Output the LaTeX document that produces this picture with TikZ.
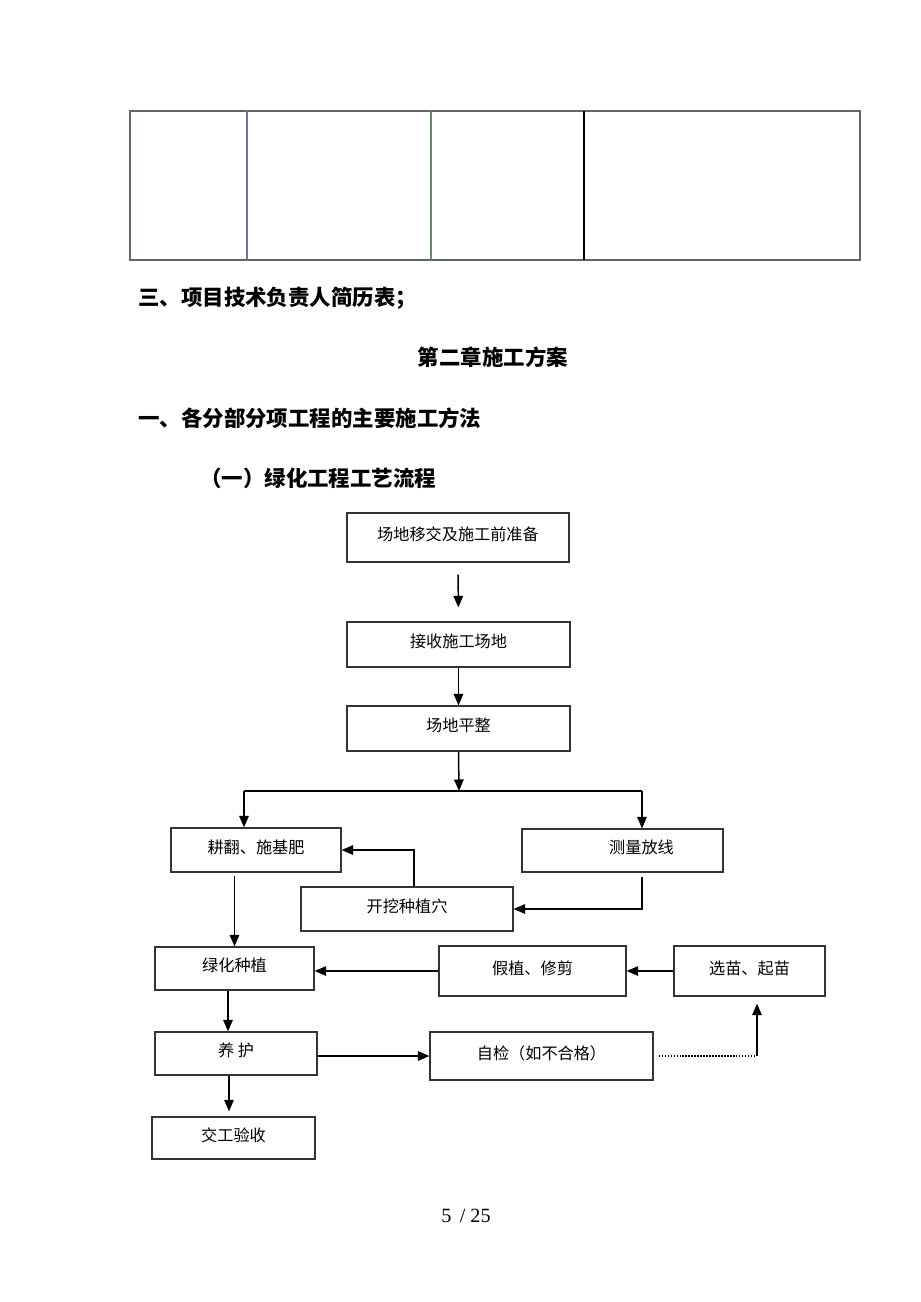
\documentclass[tikz,border=0pt]{standalone}
\usepackage{fontspec}
\setmainfont{Liberation Serif}
\newfontfamily\cjk{Noto Sans CJK SC}
\usetikzlibrary{arrows.meta}

\definecolor{tblgray}{RGB}{95,105,95}
\definecolor{tblpurple}{RGB}{135,105,145}
\definecolor{tblgreen}{RGB}{105,135,105}

\begin{document}
\begin{tikzpicture}[x=0.02cm,y=-0.02cm,>={Triangle[length=2.3mm,width=1.9mm]},
  box/.style={draw=black!80,line width=0.7pt,inner sep=0pt,text height=8pt,text depth=4.2pt,
    font=\cjk\fontsize{9.2pt}{11pt}\selectfont},
  head/.style={anchor=west,inner sep=0pt,font=\cjk\bfseries\fontsize{12.2pt}{14pt}\selectfont},
  flow/.style={->,line width=0.85pt}]
  \useasboundingbox (0,0) rectangle (920,1302);
  % table left over from the page before
  \draw[tblgray,line width=0.6pt] (130,111) rectangle (860,260);
  \draw[tblpurple,line width=0.6pt] (247,111) -- (247,260);
  \draw[tblgreen,line width=0.6pt] (431,111) -- (431,260);
  \draw[black,line width=0.6pt] (584,111) -- (584,260);

  \node[head] (sec3) at (138,298) {三、项目技术负责人简历表；};
  \node[head,anchor=center] (chap2) at (493,357) {第二章施工方案};
  \node[head] (sec1) at (138,418) {一、各分部分项工程的主要施工方法};
  \node[head] (sub1) at (200,478) {（一）绿化工程工艺流程};

  % flow chart
  \node[box,minimum width=4.44cm,minimum height=0.98cm] (prep) at (458,537.5) {场地移交及施工前准备};
  \node[box,minimum width=4.46cm,minimum height=0.9cm] (recv) at (458.5,644.5) {接收施工场地};
  \node[box,minimum width=4.46cm,minimum height=0.9cm] (level) at (458.5,728.5) {场地平整};
  \node[box,minimum width=3.4cm,minimum height=0.88cm] (plough) at (256,850) {耕翻、施基肥};
  \node[box,minimum width=4.02cm,minimum height=0.86cm] (survey) at (622.5,850.5) {\hspace*{0.76cm}测量放线};
  \node[box,minimum width=4.24cm,minimum height=0.88cm] (dig) at (407,909) {开挖种植穴};
  \node[box,minimum width=3.18cm,minimum height=0.86cm] (plant) at (234.5,968.5) {绿化种植};
  \node[box,minimum width=3.74cm,minimum height=1cm] (heel) at (532.5,971) {假植、修剪};
  \node[box,minimum width=3.02cm,minimum height=1cm] (select) at (749.5,971) {选苗、起苗};
  \node[box,minimum width=3.24cm,minimum height=0.86cm] (care) at (236,1053.5) {养\ 护};
  \node[box,minimum width=4.46cm,minimum height=0.96cm] (check) at (541.5,1056) {自检（如不合格）};
  \node[box,minimum width=3.26cm,minimum height=0.84cm] (handover) at (233.5,1138) {交工验收};

  \draw[flow,shorten <=0.24cm,shorten >=0.28cm] (prep.south) -- (recv.north);
  \draw[flow] (recv) -- (level);
  \coordinate (split) at (459,791);
  \coordinate (lt) at (244,791);
  \coordinate (rt) at (642,791);
  \draw[flow] (level.south) -- (split);
  \draw[line width=0.85pt] (lt) -- (rt);
  \draw[flow] (lt) -- (lt |- plough.north);
  \draw[flow] (rt) -- (rt |- survey.north);
  \draw[flow] ([xshift=0.14cm]dig.north) |- (plough.east);
  \draw[flow] ([xshift=0.39cm,yshift=-0.08cm]survey.south) |- (dig.east);
  \draw[flow,shorten <=0.06cm] (plough.south -| plant.north) -- (plant.north);
  \draw[flow] (heel.west) -- (heel.west -| plant.east);
  \draw[flow] (select.west) -- (heel.east);
  \draw[flow] ([xshift=-0.13cm]plant.south) -- ([xshift=-0.13cm]plant.south |- care.north);
  \draw[flow] (care.east |- check.west) -- (check.west);
  \coordinate (turn) at (757,1056);
  \draw[densely dotted,line width=0.7pt,shorten <=0.1cm] (check.east) -- (turn);
  \draw[flow,shorten >=0.14cm] (turn) -- (turn |- select.south);
  \draw[flow,shorten >=0.1cm] ([xshift=-0.14cm]care.south) -- ([xshift=-0.14cm]care.south |- handover.north);

  \node[font=\fontsize{11.5pt}{13pt}\selectfont] (page) at (466,1216) {5 \,/ 25};
\end{tikzpicture}
\end{document}
